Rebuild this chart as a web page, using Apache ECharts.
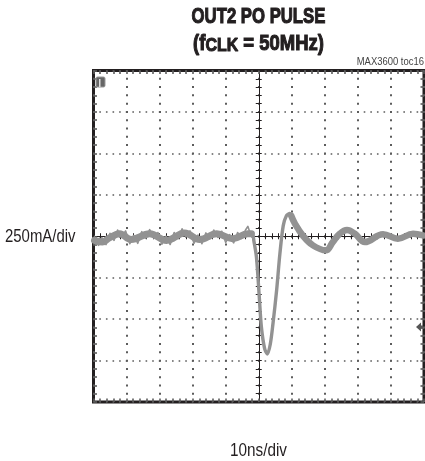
<!DOCTYPE html>
<html><head><meta charset="utf-8">
<style>html,body{margin:0;padding:0;background:#fff}#c{width:425px;height:461px}</style>
<script src="https://cdn.jsdelivr.net/npm/echarts@6/dist/echarts.min.js"></script>
</head><body><div id="c"></div>
<script>
const traceTime=[-4.97,-4.73,-4.52,-4.21,-3.86,-3.30,-2.79,-2.24,-1.79,-1.27,-0.79,-0.33,-0.18,-0.15,-0.07,0.01,0.08,0.18,0.26,0.35,0.43,0.54,0.64,0.74,0.84,0.94,1.09,1.33,1.64,2.03,2.24,2.45,2.67,2.91,3.21,3.76,4.21,4.67,4.97];
const traceAmp=[-0.10,-0.14,-0.04,0.06,-0.08,0.06,-0.10,0.08,-0.08,0.06,-0.06,0.06,0.02,-0.10,-0.50,-1.39,-2.19,-2.72,-2.84,-2.60,-2.11,-1.31,-0.42,0.25,0.50,0.55,0.31,0.02,-0.22,-0.34,-0.14,0.06,0.15,0.06,-0.14,0.05,-0.06,0.06,0.02];
const flatTime=[-4.97,-4.73,-4.52,-4.21,-3.86,-3.30,-2.79,-2.24,-1.79,-1.27,-0.79,-0.33,-0.22];
const flatAmp=[-0.10,-0.14,-0.04,0.06,-0.08,0.06,-0.10,0.08,-0.08,0.06,-0.06,0.06,0.06];
const fuzzTime=[-4.97,-4.85,-4.75,-4.62,-4.5,-4.38,-4.27,-4.15,-4.03,-3.9,-3.78,-3.66,-3.54,-3.42,-3.3,-3.18,-3.05,-2.93,-2.8,-2.68,-2.56,-2.44,-2.32,-2.2,-2.08,-1.96,-1.84,-1.72,-1.6,-1.48,-1.36,-1.24,-1.12,-1,-0.88,-0.76,-0.64,-0.52,-0.4,-0.33,-0.25];
const fuzzAmp=[-0.02,-0.22,-0.03,-0.2,0.07,-0.1,0.15,-0.03,0.13,-0.18,0.02,-0.17,0.11,-0.05,0.16,-0.04,0.09,-0.19,0,-0.2,0.09,-0.06,0.18,-0.01,0.13,-0.17,0.03,-0.18,0.08,-0.06,0.15,-0.03,0.12,-0.15,0.04,-0.16,0.09,-0.05,0.15,0.24,0.05];
const ringTime=[0.98,1.09,1.33,1.64,2.03,2.24,2.45,2.67,2.91,3.21,3.76,4.21,4.67,4.97];
const ringAmp=[0.5,0.31,0.02,-0.22,-0.34,-0.14,0.06,0.15,0.06,-0.14,0.05,-0.06,0.06,0.02];
const pairs=(a,b)=>a.map((v,i)=>[v,b[i]]);
const titleLine1='OUT2 PO PULSE';
const titleLine2Parts=['(f','CLK',' = 50MHz)'];
const tocLabel='MAX3600 toc16';
const yLabel='250mA/div';
const xLabel='10ns/div';
const TRACE='#929292', INK='#231f20', DOT='#5c5c5c';
const G={left:93.5,top:70.5,width:330.5,height:331.5};
const ticks=(c,w,len)=>({
  axisTick:{show:true,inside:true,length:len,lineStyle:{color:c,width:w}},
  minorTick:{show:true,splitNumber:5,length:len,lineStyle:{color:c,width:w}},
  axisLabel:{show:false}});
const crossX=(pos)=>Object.assign({type:'value',min:-5,max:5,interval:1,position:pos,
  axisLine:{onZero:true,show:true,lineStyle:{color:INK,width:1}},
  splitLine:{show:pos==='bottom',lineStyle:{color:DOT,width:2,type:[2,6.29],dashOffset:1}}},ticks(INK,1,3));
const crossY=(pos)=>Object.assign({type:'value',min:-4,max:4,interval:1,position:pos,
  axisLine:{onZero:true,show:true,lineStyle:{color:INK,width:1}},
  splitLine:{show:pos==='left',lineStyle:{color:DOT,width:1.6,type:[1.6,5.01],dashOffset:0.8}}},ticks(INK,1,3));
const edgeX=(pos)=>Object.assign({type:'value',min:-5,max:5,interval:1,position:pos,
  axisLine:{onZero:false,show:false},splitLine:{show:false}},ticks(DOT,1.6,3.5));
const edgeY=(pos)=>Object.assign({type:'value',min:-4,max:4,interval:1,position:pos,
  axisLine:{onZero:false,show:false},splitLine:{show:false}},ticks(DOT,1.6,3.5));
const trace=(name,t,a,w,s,c)=>({name,type:'line',xAxisIndex:0,yAxisIndex:0,data:pairs(t,a),smooth:s,showSymbol:false,silent:true,z:5,
  lineStyle:{color:c||TRACE,width:w,cap:'round',join:'round'}});
const richA={fontFamily:'Liberation Sans',fontWeight:'bold',fontSize:22,fill:INK,stroke:INK,lineWidth:1.1};
const richB={fontFamily:'Liberation Sans',fontWeight:'bold',fontSize:19,fill:INK,stroke:INK,lineWidth:1.1,verticalAlign:'bottom'};
const plainText=(text,x,y,size,sx,align,fill)=>({type:'text',x,y,scaleX:sx,z:20,style:{text,align,verticalAlign:'middle',fontFamily:'Liberation Sans',fontSize:size,fill}});
const chart=echarts.init(document.getElementById('c'),null,{renderer:'canvas'});
chart.setOption({
  animation:false,backgroundColor:'#fff',
  grid:Object.assign({show:true,borderColor:INK,borderWidth:3,backgroundColor:'transparent'},G),
  xAxis:[crossX('bottom'),crossX('top'),edgeX('bottom'),edgeX('top')],
  yAxis:[crossY('left'),crossY('right'),edgeY('left'),edgeY('right')],
  series:[trace('trace',traceTime,traceAmp,3.4,0.3),trace('flat',flatTime,flatAmp,7,0.4),trace('fuzz',fuzzTime,fuzzAmp,1.6,false,TRACE),trace('ring',ringTime,ringAmp,6.5,0.4)],
  graphic:[
    {type:'text',x:258.5,y:17,scaleX:0.76,z:20,style:Object.assign({text:titleLine1,align:'center',verticalAlign:'middle'},richA)},
    {type:'text',x:258.5,y:44,scaleX:0.84,z:20,style:{text:'{a|'+titleLine2Parts[0]+'}{b|'+titleLine2Parts[1]+'}{a|'+titleLine2Parts[2]+'}',align:'center',verticalAlign:'middle',rich:{a:richA,b:richB}}},
    plainText(tocLabel,424,62,11,0.86,'right','#444'),
    plainText(yLabel,5,237,18,0.83,'left',INK),
    plainText(xLabel,258.5,451,18,0.85,'center',INK),
    {type:'rect',z:20,shape:{x:96,y:77,width:9,height:10,r:1.5},style:{fill:'#666',stroke:'#999',lineWidth:1}},
    {type:'rect',z:20,shape:{x:99,y:79,width:1.5,height:8},style:{fill:'#ddd'}},
    {type:'polygon',z:20,shape:{points:[[416,327],[421,322.5],[421,331.5]]},style:{fill:'#555'}},
    {type:'rect',z:20,shape:{x:421,y:325.5,width:2,height:3},style:{fill:'#555'}}
  ]
});
</script></body></html>
